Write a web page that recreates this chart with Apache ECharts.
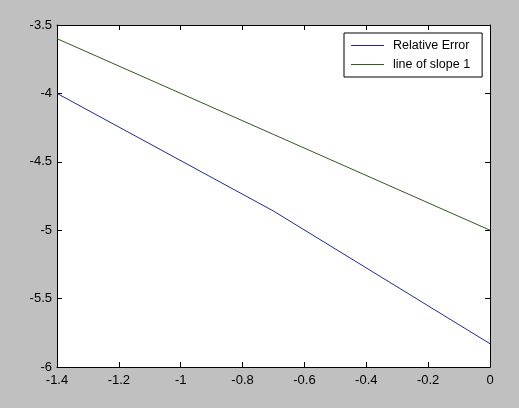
<!DOCTYPE html>
<html>
<head>
<meta charset="utf-8">
<script src="https://cdn.jsdelivr.net/npm/echarts@6/dist/echarts.min.js"></script>
<style>
  html, body { margin: 0; padding: 0; background: #c0c0c0; }
  #chart { width: 519px; height: 408px; }
</style>
</head>
<body>
<div id="chart"></div>
<script>
// log10(h) values and errors
const xVals = [-1.4, -0.7, 0];
const relErr = [-4.0, -4.86, -5.83];
const slopeLine = [-3.6, -4.3, -5.0];
const seriesNames = ["Relative Error", "line of slope 1"];

let chart = echarts.init(document.getElementById("chart"));

const axisText = { color: "#000", fontSize: 13, fontFamily: "Liberation Sans, Arial, sans-serif" };
const axisLine = { show: true, onZero: false, lineStyle: { color: "#000", width: 1 } };
const tick = { show: true, inside: true, length: 5, lineStyle: { color: "#000" } };

let options = {
  backgroundColor: "#c0c0c0",
  animation: false,
  grid: {
    left: 57,
    top: 25,
    width: 433,
    height: 342,
    show: true,
    backgroundColor: "#fff",
    borderWidth: 0
  },
  legend: {
    orient: "vertical",
    left: 344,
    top: 33,
    padding: [6, 12, 6, 7],
    itemGap: 6,
    itemWidth: 33,
    itemHeight: 1,
    icon: "rect",
    backgroundColor: "#fff",
    borderColor: "#000",
    borderWidth: 1,
    borderRadius: 0,
    textStyle: {
      color: "#000",
      fontSize: 12.5,
      fontFamily: "Liberation Sans, Arial, sans-serif",
      height: 14,
      padding: [0, 0, 0, 4]
    },
    data: seriesNames
  },
  xAxis: [
    {
      type: "value",
      min: -1.4,
      max: 0,
      interval: 0.2,
      axisLine: axisLine,
      axisTick: tick,
      splitLine: { show: false },
      axisLabel: Object.assign({ margin: 7 }, axisText)
    },
    {
      type: "value",
      position: "top",
      min: -1.4,
      max: 0,
      interval: 0.2,
      axisLine: axisLine,
      axisTick: tick,
      splitLine: { show: false },
      axisLabel: { show: false }
    }
  ],
  yAxis: [
    {
      type: "value",
      min: -6,
      max: -3.5,
      interval: 0.5,
      axisLine: axisLine,
      axisTick: tick,
      splitLine: { show: false },
      axisLabel: Object.assign({ margin: 5 }, axisText)
    },
    {
      type: "value",
      position: "right",
      min: -6,
      max: -3.5,
      interval: 0.5,
      axisLine: axisLine,
      axisTick: tick,
      splitLine: { show: false },
      axisLabel: { show: false }
    }
  ],
  series: [
    {
      name: seriesNames[0],
      type: "line",
      symbol: "none",
      color: "#202a90",
      lineStyle: { width: 1 },
      data: xVals.map((x, i) => [x, relErr[i]])
    },
    {
      name: seriesNames[1],
      type: "line",
      symbol: "none",
      color: "#2f5a20",
      lineStyle: { width: 1 },
      data: xVals.map((x, i) => [x, slopeLine[i]])
    }
  ]
};

chart.setOption(options, true);
</script>
</body>
</html>
